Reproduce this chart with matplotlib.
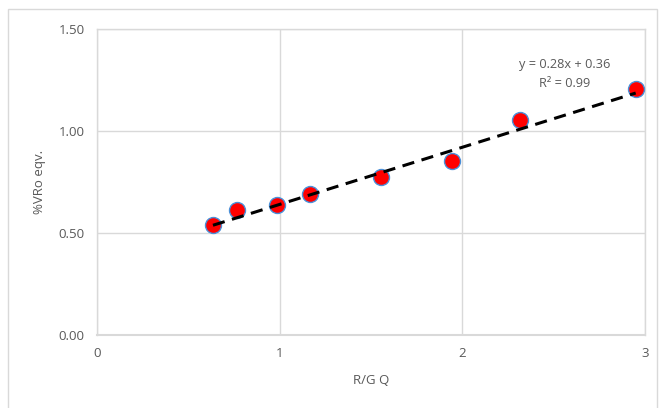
import matplotlib.pyplot as plt
from matplotlib.patches import Rectangle
import numpy as np

# Измерения: отражательная способность R/G Q и эквивалент %VRo
rgq = [0.635, 0.766, 0.985, 1.166, 1.554, 1.943, 2.315, 2.95]
vro = [0.539, 0.613, 0.637, 0.691, 0.775, 0.855, 1.054, 1.206]

# Линейный тренд
slope = 0.28
intercept = 0.36
r2 = 0.99

x_ticks = [0, 1, 2, 3]
y_ticks = [0.0, 0.5, 1.0, 1.5]

plt.rcParams['font.family'] = ['Open Sans', 'DejaVu Sans']
text_color = '#595959'
grid_color = '#D9D9D9'

fig = plt.figure(figsize=(6.6, 4.08), dpi=100)
ax = fig.add_axes([0.147, 0.179, 0.83, 0.75])

# Рамка вокруг области диаграммы
fig.patches.append(Rectangle((8 / 660, -0.01), 649 / 660, 1 - 9 / 408 + 0.01,
                             transform=fig.transFigure, fill=False,
                             edgecolor=grid_color, linewidth=1))

ax.set_xlim(0, 3)
ax.set_ylim(0, 1.5)
ax.set_xticks(x_ticks)
ax.set_yticks(y_ticks)
ax.set_yticklabels([f'{v:.2f}' for v in y_ticks])
ax.tick_params(length=0, colors=text_color, labelsize=9.5, pad=9)
ax.grid(True, color=grid_color, linewidth=1)
ax.set_axisbelow(True)
for s in ax.spines.values():
    s.set_color(grid_color)
    s.set_linewidth(1)
ax.spines['bottom'].set_linewidth(1.5)

xt = np.array([min(rgq), max(rgq)])
ax.plot(xt, slope * xt + intercept, color='black', linestyle=(0, (4, 2.5)),
        linewidth=2.2, zorder=4)
ax.plot(rgq, vro, 'o', markersize=11.5, markerfacecolor='#FF0000',
        markeredgecolor='#4A90D9', markeredgewidth=1.0, zorder=3)

ax.text(2.56, 1.325, f'y = {slope}x + {intercept}', color=text_color,
        fontsize=9.2, ha='center', va='center')
ax.text(2.56, 1.235, f'R² = {r2}', color=text_color,
        fontsize=9.2, ha='center', va='center')

ax.set_xlabel('R/G Q', color=text_color, fontsize=9.5, labelpad=10)
ax.set_ylabel('%VRo eqv.', color=text_color, fontsize=9.5, labelpad=9)

fig.savefig('out.png', dpi=100)
